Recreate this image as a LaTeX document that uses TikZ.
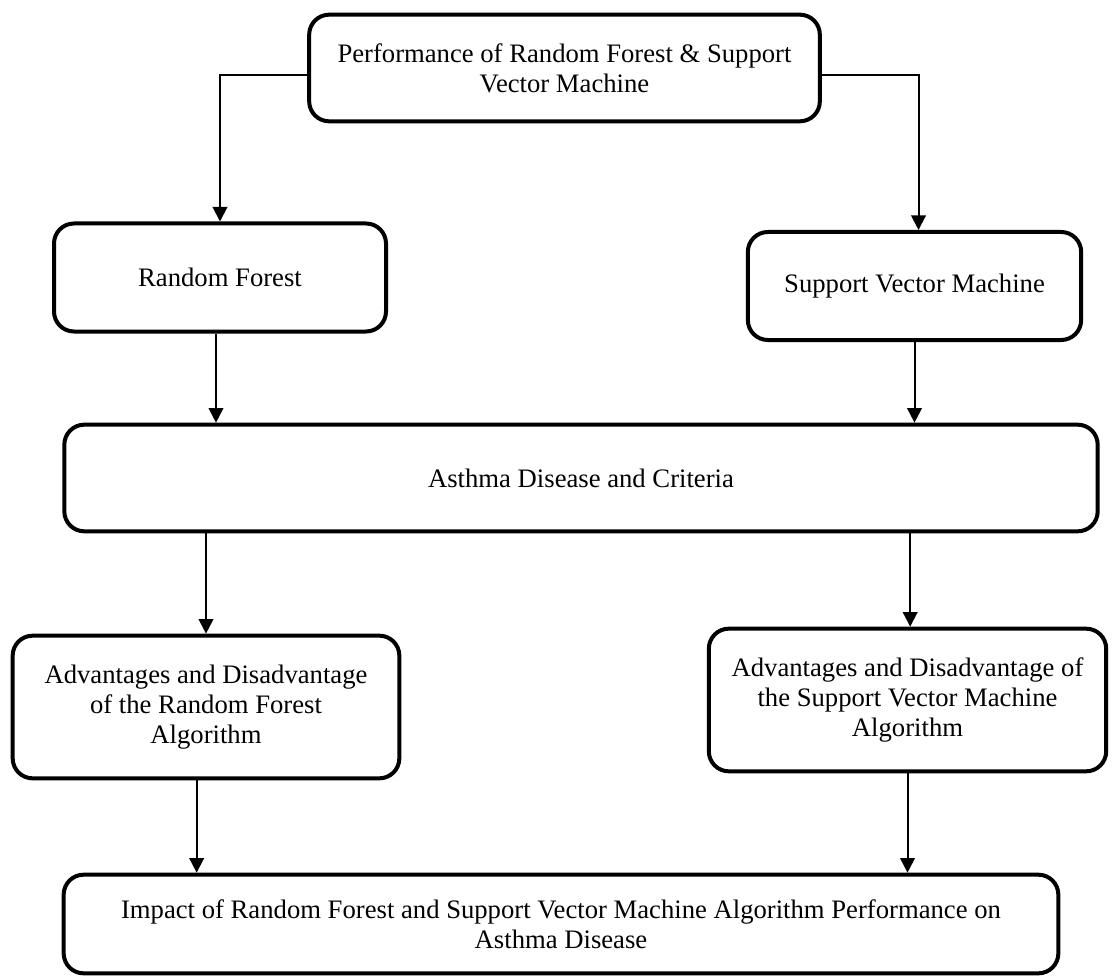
\documentclass[tikz,border=0pt]{standalone}
\usepackage{fontspec}
\setmainfont{Liberation Serif}
\usetikzlibrary{arrows.meta}

\begin{document}
\begin{tikzpicture}[
    x=0.75pt, y=-0.75pt,
    box/.style={rectangle, rounded corners=15pt, draw=black, line width=3pt, fill=white,
                align=center, inner sep=0pt, font=\fontsize{20}{22.5}\selectfont},
    arrow/.style={-{Triangle[length=11pt, width=11pt]}, line width=1.5pt}
]
    \useasboundingbox (0,0) rectangle (1112,980);

    % --- Top box ---
    \node[box, minimum width=383pt, minimum height=80pt] (perf) at (564.5, 68)
        {Performance of Random Forest \& Support\\Vector Machine};

    % --- Second row: the two algorithms ---
    \node[box, minimum width=249pt, minimum height=81pt] (rf) at (220, 277.5) {Random Forest};
    \node[box, minimum width=250pt, minimum height=81pt] (svm) at (914.5, 286) {Support Vector Machine};

    % --- Middle box ---
    \node[box, minimum width=775pt, minimum height=80pt] (asthma) at (581, 478) {Asthma Disease and Criteria};

    % --- Fourth row: advantages and disadvantages ---
    \node[box, minimum width=290pt, minimum height=107pt] (advrf) at (206, 707)
        {Advantages and Disadvantage\\of the Random Forest\\Algorithm};
    \node[box, minimum width=298pt, minimum height=107pt] (advsvm) at (907.5, 700)
        {Advantages and Disadvantage of\\the Support Vector Machine\\Algorithm};

    % --- Bottom box ---
    \node[box, minimum width=746pt, minimum height=74pt] (impact) at (561, 924)
        {Impact of Random Forest and Support Vector Machine Algorithm Performance on\\Asthma Disease};

    % --- Arrows ---
    \draw[arrow] ([yshift=-5pt]perf.west) -| (rf.north);
    \draw[arrow] ([yshift=-5pt]perf.east) -| ([xshift=3pt]svm.north);

    \draw[arrow] ([xshift=-3pt]rf.south) -- ([xshift=-3pt]rf.south |- asthma.north);
    \draw[arrow] (svm.south) -- (svm.south |- asthma.north);

    \draw[arrow] (advrf.north |- asthma.south) -- (advrf.north);
    \draw[arrow] ([xshift=2pt]advsvm.north |- asthma.south) -- ([xshift=2pt]advsvm.north);

    \draw[arrow] ([xshift=-7pt]advrf.south) -- ([xshift=-7pt]advrf.south |- impact.north);
    \draw[arrow] (advsvm.south) -- (advsvm.south |- impact.north);
\end{tikzpicture}
\end{document}
